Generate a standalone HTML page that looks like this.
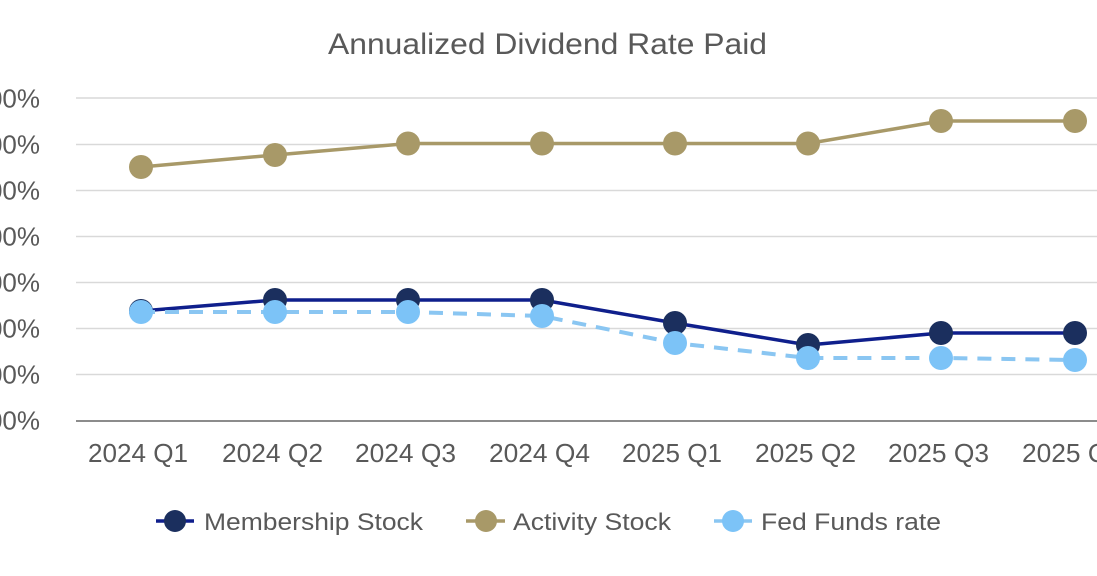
<!DOCTYPE html>
<html>
<head>
<meta charset="utf-8">
<style>
  html,body{margin:0;padding:0;background:#fff;}
  body{width:1097px;height:576px;overflow:hidden;}
  svg{display:block;}
  text{font-family:"Liberation Sans",Arial,sans-serif;fill:#595959;}
</style>
</head>
<body>
<svg width="1097" height="576" viewBox="0 0 1097 576" xmlns="http://www.w3.org/2000/svg">
  <rect width="1097" height="576" fill="#fff"/>
  <!-- Title -->
  <text x="328" y="54" font-size="30" textLength="439" lengthAdjust="spacingAndGlyphs">Annualized Dividend Rate Paid</text>

  <!-- Gridlines -->
  <g stroke="#d9d9d9" stroke-width="1.5">
    <line x1="76" y1="98" x2="1097" y2="98"/>
    <line x1="76" y1="144.5" x2="1097" y2="144.5"/>
    <line x1="76" y1="190.5" x2="1097" y2="190.5"/>
    <line x1="76" y1="236.5" x2="1097" y2="236.5"/>
    <line x1="76" y1="282.5" x2="1097" y2="282.5"/>
    <line x1="76" y1="328.5" x2="1097" y2="328.5"/>
    <line x1="76" y1="374.5" x2="1097" y2="374.5"/>
  </g>
  <line x1="76" y1="421" x2="1097" y2="421" stroke="#8c8c8c" stroke-width="2"/>

  <!-- Y labels -->
  <g font-size="26" text-anchor="end">
    <text x="40" y="107.5">7.00%</text>
    <text x="40" y="153.5">6.00%</text>
    <text x="40" y="199.5">5.00%</text>
    <text x="40" y="245.5">4.00%</text>
    <text x="40" y="291.5">3.00%</text>
    <text x="40" y="337.5">2.00%</text>
    <text x="40" y="383.5">1.00%</text>
    <text x="40" y="429.5">0.00%</text>
  </g>

  <!-- X labels -->
  <g font-size="26">
    <text x="88" y="462" textLength="100" lengthAdjust="spacingAndGlyphs">2024 Q1</text>
    <text x="222" y="462" textLength="101" lengthAdjust="spacingAndGlyphs">2024 Q2</text>
    <text x="355" y="462" textLength="101" lengthAdjust="spacingAndGlyphs">2024 Q3</text>
    <text x="489" y="462" textLength="101" lengthAdjust="spacingAndGlyphs">2024 Q4</text>
    <text x="622" y="462" textLength="100" lengthAdjust="spacingAndGlyphs">2025 Q1</text>
    <text x="755" y="462" textLength="101" lengthAdjust="spacingAndGlyphs">2025 Q2</text>
    <text x="888" y="462" textLength="101" lengthAdjust="spacingAndGlyphs">2025 Q3</text>
    <text x="1022" y="462" textLength="101" lengthAdjust="spacingAndGlyphs">2025 Q4</text>
  </g>

  <!-- Activity Stock -->
  <polyline fill="none" stroke="#a89968" stroke-width="3.5" stroke-linejoin="round"
    points="141,167 275,155 408,143.5 542,143.5 675,143.5 808,143.5 941,121 1075,121"/>
  <g fill="#a89968">
    <circle cx="141" cy="167" r="12"/>
    <circle cx="275" cy="155" r="12"/>
    <circle cx="408" cy="143.5" r="12"/>
    <circle cx="542" cy="143.5" r="12"/>
    <circle cx="675" cy="143.5" r="12"/>
    <circle cx="808" cy="143.5" r="12"/>
    <circle cx="941" cy="121" r="12"/>
    <circle cx="1075" cy="121" r="12"/>
  </g>

  <!-- Membership Stock -->
  <polyline fill="none" stroke="#0f1f8c" stroke-width="3.5" stroke-linejoin="round"
    points="141,311 275,300 408,300 542,300 675,323 808,345 941,333 1075,333"/>
  <g fill="#1b2f5e">
    <circle cx="141" cy="311" r="12"/>
    <circle cx="275" cy="300" r="12"/>
    <circle cx="408" cy="300" r="12"/>
    <circle cx="542" cy="300" r="12"/>
    <circle cx="675" cy="323" r="12"/>
    <circle cx="808" cy="345" r="12"/>
    <circle cx="941" cy="333" r="12"/>
    <circle cx="1075" cy="333" r="12"/>
  </g>

  <!-- Fed Funds rate -->
  <polyline fill="none" stroke="#8ac6f2" stroke-width="4" stroke-dasharray="14,10"
    points="141,312 275,312 408,312 542,316 675,343 808,358 941,358 1075,360"/>
  <g fill="#7cc3f7">
    <circle cx="141" cy="312" r="12"/>
    <circle cx="275" cy="312" r="12"/>
    <circle cx="408" cy="312" r="12"/>
    <circle cx="542" cy="316" r="12"/>
    <circle cx="675" cy="343" r="12"/>
    <circle cx="808" cy="358" r="12"/>
    <circle cx="941" cy="358" r="12"/>
    <circle cx="1075" cy="360" r="12"/>
  </g>

  <!-- Legend -->
  <line x1="156" y1="521" x2="194" y2="521" stroke="#0f1f8c" stroke-width="3.5"/>
  <circle cx="175" cy="521" r="11" fill="#1b2f5e"/>
  <text x="204" y="530" font-size="24" textLength="219" lengthAdjust="spacingAndGlyphs">Membership Stock</text>

  <line x1="466" y1="521" x2="505" y2="521" stroke="#a89968" stroke-width="3.5"/>
  <circle cx="486" cy="521" r="11" fill="#a89968"/>
  <text x="513" y="530" font-size="24" textLength="158" lengthAdjust="spacingAndGlyphs">Activity Stock</text>

  <line x1="714" y1="521" x2="752" y2="521" stroke="#8ac6f2" stroke-width="3.5"/>
  <circle cx="733" cy="521" r="11" fill="#7cc3f7"/>
  <text x="761" y="530" font-size="24" textLength="180" lengthAdjust="spacingAndGlyphs">Fed Funds rate</text>
</svg>
</body>
</html>
